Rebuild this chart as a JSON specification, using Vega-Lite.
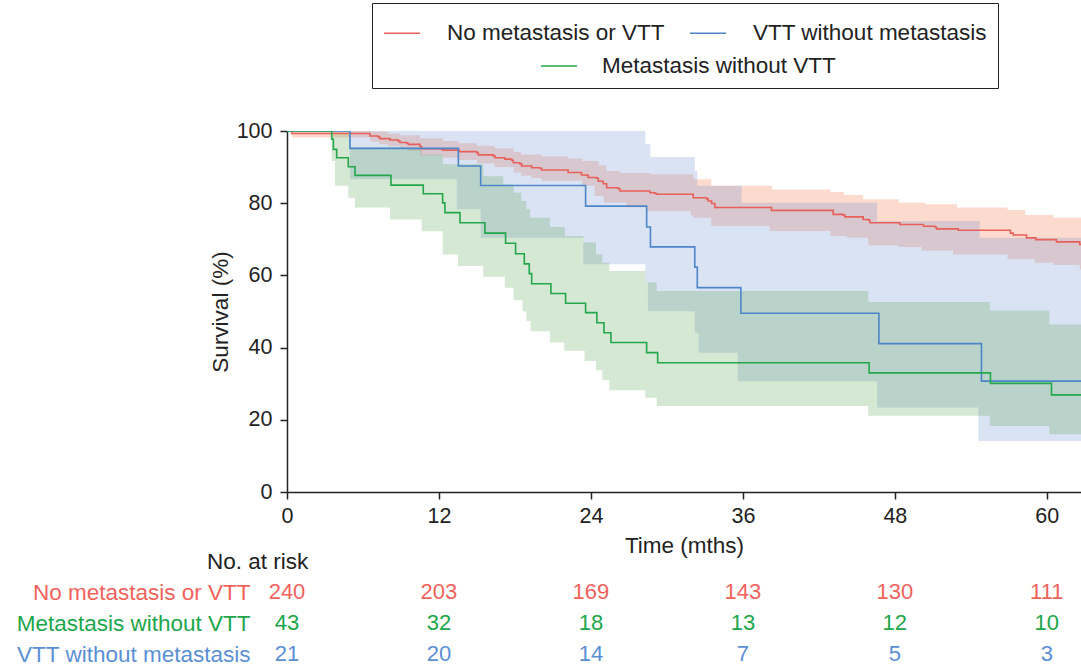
{
  "$schema": "https://vega.github.io/schema/vega-lite/v6.json",
  "autosize": {"type": "pad"},
  "padding": {"left": 16, "top": 2, "right": 0, "bottom": 0},
  "config": {"font": "Liberation Sans", "view": {"stroke": null}},
  "spacing": 100,
  "bounds": "flush",
  "resolve": {"scale": {"color": "independent", "stroke": "independent"}, "legend": {"color": "independent", "stroke": "independent"}},
  "datasets": {
    "surv": [
      {"g": "No metastasis or VTT", "t": 0, "s": 100}, {"g": "No metastasis or VTT", "t": 0.37, "s": 99.3}, {"g": "No metastasis or VTT", "t": 6.55, "s": 98.6}, {"g": "No metastasis or VTT", "t": 7.21, "s": 98.3}, {"g": "No metastasis or VTT", "t": 7.34, "s": 97.9}, {"g": "No metastasis or VTT", "t": 8.13, "s": 97.5}, {"g": "No metastasis or VTT", "t": 8.79, "s": 97.2}, {"g": "No metastasis or VTT", "t": 8.92, "s": 96.8}, {"g": "No metastasis or VTT", "t": 9.45, "s": 96.6}, {"g": "No metastasis or VTT", "t": 9.58, "s": 96.3}, {"g": "No metastasis or VTT", "t": 10.5, "s": 95.7}, {"g": "No metastasis or VTT", "t": 10.63, "s": 95.1}, {"g": "No metastasis or VTT", "t": 12.21, "s": 94.9}, {"g": "No metastasis or VTT", "t": 12.34, "s": 94.7}, {"g": "No metastasis or VTT", "t": 13.6, "s": 94.3}, {"g": "No metastasis or VTT", "t": 14.97, "s": 94.0}, {"g": "No metastasis or VTT", "t": 15.1, "s": 93.4}, {"g": "No metastasis or VTT", "t": 16.29, "s": 93.1}, {"g": "No metastasis or VTT", "t": 16.42, "s": 92.6}, {"g": "No metastasis or VTT", "t": 17.2, "s": 92.2}, {"g": "No metastasis or VTT", "t": 17.74, "s": 91.9}, {"g": "No metastasis or VTT", "t": 17.87, "s": 91.2}, {"g": "No metastasis or VTT", "t": 18.39, "s": 90.9}, {"g": "No metastasis or VTT", "t": 18.53, "s": 90.3}, {"g": "No metastasis or VTT", "t": 19.32, "s": 89.8}, {"g": "No metastasis or VTT", "t": 19.97, "s": 89.7}, {"g": "No metastasis or VTT", "t": 20.1, "s": 89.2}, {"g": "No metastasis or VTT", "t": 22.2, "s": 88.5}, {"g": "No metastasis or VTT", "t": 23.26, "s": 87.8}, {"g": "No metastasis or VTT", "t": 23.66, "s": 87.7}, {"g": "No metastasis or VTT", "t": 23.79, "s": 87.1}, {"g": "No metastasis or VTT", "t": 24.45, "s": 86.9}, {"g": "No metastasis or VTT", "t": 24.58, "s": 86.1}, {"g": "No metastasis or VTT", "t": 24.97, "s": 85.4}, {"g": "No metastasis or VTT", "t": 25.24, "s": 84.3}, {"g": "No metastasis or VTT", "t": 26.16, "s": 84.0}, {"g": "No metastasis or VTT", "t": 26.29, "s": 83.4}, {"g": "No metastasis or VTT", "t": 28.66, "s": 82.9}, {"g": "No metastasis or VTT", "t": 29.05, "s": 82.7}, {"g": "No metastasis or VTT", "t": 29.19, "s": 82.5}, {"g": "No metastasis or VTT", "t": 32.08, "s": 81.5}, {"g": "No metastasis or VTT", "t": 33.13, "s": 81.2}, {"g": "No metastasis or VTT", "t": 33.26, "s": 80.6}, {"g": "No metastasis or VTT", "t": 33.53, "s": 79.9}, {"g": "No metastasis or VTT", "t": 33.79, "s": 78.8}, {"g": "No metastasis or VTT", "t": 38.26, "s": 78.0}, {"g": "No metastasis or VTT", "t": 43.13, "s": 76.9}, {"g": "No metastasis or VTT", "t": 43.92, "s": 76.7}, {"g": "No metastasis or VTT", "t": 44.05, "s": 76.2}, {"g": "No metastasis or VTT", "t": 45.5, "s": 75.5}, {"g": "No metastasis or VTT", "t": 45.9, "s": 75.3}, {"g": "No metastasis or VTT", "t": 46.03, "s": 74.6}, {"g": "No metastasis or VTT", "t": 48.39, "s": 74.1}, {"g": "No metastasis or VTT", "t": 50.26, "s": 73.6}, {"g": "No metastasis or VTT", "t": 51.16, "s": 73.4}, {"g": "No metastasis or VTT", "t": 51.29, "s": 72.9}, {"g": "No metastasis or VTT", "t": 53.0, "s": 72.5}, {"g": "No metastasis or VTT", "t": 57.13, "s": 71.7}, {"g": "No metastasis or VTT", "t": 57.34, "s": 71.2}, {"g": "No metastasis or VTT", "t": 58.4, "s": 70.4}, {"g": "No metastasis or VTT", "t": 59.13, "s": 69.9}, {"g": "No metastasis or VTT", "t": 60.76, "s": 69.3}, {"g": "No metastasis or VTT", "t": 62.6, "s": 68.6}, {"g": "No metastasis or VTT", "t": 62.7, "s": 68.6},
      {"g": "VTT without metastasis", "t": 0, "s": 100}, {"g": "VTT without metastasis", "t": 4.97, "s": 95.2}, {"g": "VTT without metastasis", "t": 13.53, "s": 90.3}, {"g": "VTT without metastasis", "t": 15.29, "s": 84.9}, {"g": "VTT without metastasis", "t": 23.58, "s": 79.2}, {"g": "VTT without metastasis", "t": 28.4, "s": 73.4}, {"g": "VTT without metastasis", "t": 28.7, "s": 67.9}, {"g": "VTT without metastasis", "t": 32.2, "s": 62.3}, {"g": "VTT without metastasis", "t": 32.4, "s": 56.6}, {"g": "VTT without metastasis", "t": 35.84, "s": 49.5}, {"g": "VTT without metastasis", "t": 46.74, "s": 41.1}, {"g": "VTT without metastasis", "t": 54.84, "s": 30.7}, {"g": "VTT without metastasis", "t": 62.7, "s": 30.7}
    ],
    "survm": [
      {"m": "Metastasis without VTT", "t": 0, "s": 100}, {"m": "Metastasis without VTT", "t": 3.53, "s": 97.7}, {"m": "Metastasis without VTT", "t": 3.66, "s": 94.9}, {"m": "Metastasis without VTT", "t": 3.92, "s": 92.6}, {"m": "Metastasis without VTT", "t": 4.84, "s": 90.1}, {"m": "Metastasis without VTT", "t": 5.37, "s": 87.7}, {"m": "Metastasis without VTT", "t": 8.21, "s": 85.0}, {"m": "Metastasis without VTT", "t": 10.76, "s": 82.6}, {"m": "Metastasis without VTT", "t": 12.29, "s": 80.1}, {"m": "Metastasis without VTT", "t": 12.47, "s": 77.4}, {"m": "Metastasis without VTT", "t": 13.66, "s": 74.6}, {"m": "Metastasis without VTT", "t": 15.63, "s": 71.7}, {"m": "Metastasis without VTT", "t": 17.26, "s": 68.9}, {"m": "Metastasis without VTT", "t": 18.05, "s": 66.0}, {"m": "Metastasis without VTT", "t": 18.74, "s": 63.2}, {"m": "Metastasis without VTT", "t": 19.13, "s": 60.5}, {"m": "Metastasis without VTT", "t": 19.32, "s": 57.7}, {"m": "Metastasis without VTT", "t": 20.84, "s": 55.0}, {"m": "Metastasis without VTT", "t": 22.0, "s": 52.3}, {"m": "Metastasis without VTT", "t": 23.58, "s": 49.7}, {"m": "Metastasis without VTT", "t": 24.47, "s": 46.9}, {"m": "Metastasis without VTT", "t": 25.03, "s": 44.1}, {"m": "Metastasis without VTT", "t": 25.58, "s": 41.4}, {"m": "Metastasis without VTT", "t": 28.4, "s": 38.6}, {"m": "Metastasis without VTT", "t": 29.27, "s": 35.8}, {"m": "Metastasis without VTT", "t": 45.97, "s": 33.0}, {"m": "Metastasis without VTT", "t": 55.55, "s": 30.1}, {"m": "Metastasis without VTT", "t": 60.37, "s": 26.9}, {"m": "Metastasis without VTT", "t": 62.7, "s": 26.9}
    ],
    "ci": [
      {"grp": "No metastasis or VTT", "t": 0, "lo": 100, "hi": 100}, {"grp": "No metastasis or VTT", "t": 0.37, "lo": 98.2, "hi": 100}, {"grp": "No metastasis or VTT", "t": 6.6, "lo": 97.0, "hi": 99.8}, {"grp": "No metastasis or VTT", "t": 7.3, "lo": 96.3, "hi": 99.8}, {"grp": "No metastasis or VTT", "t": 8.0, "lo": 95.8, "hi": 99.3}, {"grp": "No metastasis or VTT", "t": 8.9, "lo": 95.0, "hi": 98.8}, {"grp": "No metastasis or VTT", "t": 9.5, "lo": 94.5, "hi": 98.8}, {"grp": "No metastasis or VTT", "t": 10.5, "lo": 93.2, "hi": 98.0}, {"grp": "No metastasis or VTT", "t": 12.3, "lo": 92.6, "hi": 97.2}, {"grp": "No metastasis or VTT", "t": 13.5, "lo": 92.0, "hi": 96.6}, {"grp": "No metastasis or VTT", "t": 15.0, "lo": 91.0, "hi": 95.9}, {"grp": "No metastasis or VTT", "t": 16.4, "lo": 90.0, "hi": 95.2}, {"grp": "No metastasis or VTT", "t": 17.9, "lo": 88.5, "hi": 94.2}, {"grp": "No metastasis or VTT", "t": 18.5, "lo": 87.6, "hi": 93.5}, {"grp": "No metastasis or VTT", "t": 19.3, "lo": 87.0, "hi": 93.5}, {"grp": "No metastasis or VTT", "t": 20.1, "lo": 86.2, "hi": 93.0}, {"grp": "No metastasis or VTT", "t": 22.2, "lo": 86.2, "hi": 92.4}, {"grp": "No metastasis or VTT", "t": 23.3, "lo": 84.8, "hi": 91.7}, {"grp": "No metastasis or VTT", "t": 24.3, "lo": 82.0, "hi": 91.7}, {"grp": "No metastasis or VTT", "t": 24.6, "lo": 82.0, "hi": 90.5}, {"grp": "No metastasis or VTT", "t": 25.0, "lo": 80.1, "hi": 90.5}, {"grp": "No metastasis or VTT", "t": 25.2, "lo": 80.1, "hi": 88.9}, {"grp": "No metastasis or VTT", "t": 26.3, "lo": 80.1, "hi": 88.4}, {"grp": "No metastasis or VTT", "t": 26.8, "lo": 78.9, "hi": 88.4}, {"grp": "No metastasis or VTT", "t": 28.4, "lo": 77.8, "hi": 88.4}, {"grp": "No metastasis or VTT", "t": 28.7, "lo": 77.8, "hi": 88.0}, {"grp": "No metastasis or VTT", "t": 31.9, "lo": 76.6, "hi": 88.0}, {"grp": "No metastasis or VTT", "t": 32.1, "lo": 76.0, "hi": 86.6}, {"grp": "No metastasis or VTT", "t": 33.5, "lo": 73.7, "hi": 84.8}, {"grp": "No metastasis or VTT", "t": 38.1, "lo": 72.3, "hi": 84.8}, {"grp": "No metastasis or VTT", "t": 38.3, "lo": 72.3, "hi": 83.8}, {"grp": "No metastasis or VTT", "t": 42.9, "lo": 70.9, "hi": 83.1}, {"grp": "No metastasis or VTT", "t": 44.0, "lo": 70.9, "hi": 82.3}, {"grp": "No metastasis or VTT", "t": 44.2, "lo": 70.4, "hi": 82.3}, {"grp": "No metastasis or VTT", "t": 45.5, "lo": 70.4, "hi": 81.1}, {"grp": "No metastasis or VTT", "t": 45.9, "lo": 68.3, "hi": 81.1}, {"grp": "No metastasis or VTT", "t": 48.3, "lo": 67.9, "hi": 80.1}, {"grp": "No metastasis or VTT", "t": 50.1, "lo": 66.9, "hi": 80.1}, {"grp": "No metastasis or VTT", "t": 50.4, "lo": 66.9, "hi": 79.7}, {"grp": "No metastasis or VTT", "t": 52.6, "lo": 65.8, "hi": 79.7}, {"grp": "No metastasis or VTT", "t": 52.9, "lo": 65.8, "hi": 78.8}, {"grp": "No metastasis or VTT", "t": 56.9, "lo": 64.5, "hi": 78.1}, {"grp": "No metastasis or VTT", "t": 58.3, "lo": 64.5, "hi": 76.7}, {"grp": "No metastasis or VTT", "t": 59.05, "lo": 63.5, "hi": 76.7}, {"grp": "No metastasis or VTT", "t": 60.5, "lo": 62.9, "hi": 76.0}, {"grp": "No metastasis or VTT", "t": 62.6, "lo": 61.7, "hi": 76.0}, {"grp": "No metastasis or VTT", "t": 62.7, "lo": 61.7, "hi": 76.0},
      {"grp": "Metastasis without VTT", "t": 0, "lo": 100, "hi": 100}, {"grp": "Metastasis without VTT", "t": 3.53, "lo": 91.7, "hi": 100}, {"grp": "Metastasis without VTT", "t": 3.79, "lo": 84.8, "hi": 100}, {"grp": "Metastasis without VTT", "t": 4.84, "lo": 81.5, "hi": 100}, {"grp": "Metastasis without VTT", "t": 5.0, "lo": 81.5, "hi": 95.4}, {"grp": "Metastasis without VTT", "t": 5.37, "lo": 78.8, "hi": 95.4}, {"grp": "Metastasis without VTT", "t": 8.13, "lo": 75.5, "hi": 95.4}, {"grp": "Metastasis without VTT", "t": 10.63, "lo": 72.2, "hi": 93.4}, {"grp": "Metastasis without VTT", "t": 12.3, "lo": 65.8, "hi": 90.8}, {"grp": "Metastasis without VTT", "t": 13.5, "lo": 62.6, "hi": 90.8}, {"grp": "Metastasis without VTT", "t": 15.5, "lo": 59.6, "hi": 87.5}, {"grp": "Metastasis without VTT", "t": 17.08, "lo": 59.6, "hi": 85.2}, {"grp": "Metastasis without VTT", "t": 17.2, "lo": 56.6, "hi": 85.2}, {"grp": "Metastasis without VTT", "t": 17.9, "lo": 53.1, "hi": 82.9}, {"grp": "Metastasis without VTT", "t": 18.5, "lo": 53.1, "hi": 80.6}, {"grp": "Metastasis without VTT", "t": 18.6, "lo": 50.1, "hi": 80.6}, {"grp": "Metastasis without VTT", "t": 18.9, "lo": 47.4, "hi": 78.3}, {"grp": "Metastasis without VTT", "t": 19.2, "lo": 47.4, "hi": 76.0}, {"grp": "Metastasis without VTT", "t": 19.24, "lo": 44.5, "hi": 76.0}, {"grp": "Metastasis without VTT", "t": 20.76, "lo": 41.4, "hi": 73.4}, {"grp": "Metastasis without VTT", "t": 21.9, "lo": 39.1, "hi": 73.4}, {"grp": "Metastasis without VTT", "t": 21.95, "lo": 39.1, "hi": 70.9}, {"grp": "Metastasis without VTT", "t": 23.4, "lo": 39.1, "hi": 69.1}, {"grp": "Metastasis without VTT", "t": 23.5, "lo": 36.3, "hi": 69.1}, {"grp": "Metastasis without VTT", "t": 24.4, "lo": 33.7, "hi": 65.8}, {"grp": "Metastasis without VTT", "t": 24.9, "lo": 31.0, "hi": 63.5}, {"grp": "Metastasis without VTT", "t": 25.45, "lo": 28.2, "hi": 61.2}, {"grp": "Metastasis without VTT", "t": 28.3, "lo": 26.1, "hi": 58.0}, {"grp": "Metastasis without VTT", "t": 29.2, "lo": 23.8, "hi": 55.7}, {"grp": "Metastasis without VTT", "t": 45.9, "lo": 21.1, "hi": 52.6}, {"grp": "Metastasis without VTT", "t": 55.5, "lo": 18.3, "hi": 50.3}, {"grp": "Metastasis without VTT", "t": 60.2, "lo": 16.0, "hi": 46.4}, {"grp": "Metastasis without VTT", "t": 62.7, "lo": 16.0, "hi": 46.4},
      {"grp": "VTT without metastasis", "t": 0, "lo": 100, "hi": 100}, {"grp": "VTT without metastasis", "t": 4.97, "lo": 86.6, "hi": 100}, {"grp": "VTT without metastasis", "t": 13.4, "lo": 78.3, "hi": 100}, {"grp": "VTT without metastasis", "t": 15.3, "lo": 70.4, "hi": 100}, {"grp": "VTT without metastasis", "t": 23.4, "lo": 63.1, "hi": 100}, {"grp": "VTT without metastasis", "t": 28.3, "lo": 58.0, "hi": 96.3}, {"grp": "VTT without metastasis", "t": 28.5, "lo": 50.1, "hi": 96.3}, {"grp": "VTT without metastasis", "t": 28.7, "lo": 50.1, "hi": 92.8}, {"grp": "VTT without metastasis", "t": 32.2, "lo": 44.1, "hi": 88.9}, {"grp": "VTT without metastasis", "t": 32.4, "lo": 44.1, "hi": 84.8}, {"grp": "VTT without metastasis", "t": 32.5, "lo": 38.6, "hi": 84.8}, {"grp": "VTT without metastasis", "t": 35.6, "lo": 30.7, "hi": 84.8}, {"grp": "VTT without metastasis", "t": 35.9, "lo": 30.7, "hi": 80.1}, {"grp": "VTT without metastasis", "t": 46.6, "lo": 23.4, "hi": 75.1}, {"grp": "VTT without metastasis", "t": 54.6, "lo": 14.1, "hi": 75.1}, {"grp": "VTT without metastasis", "t": 54.7, "lo": 14.1, "hi": 70.4}, {"grp": "VTT without metastasis", "t": 62.7, "lo": 14.1, "hi": 70.4}
    ],
    "risk": [
      {"g": "No metastasis or VTT", "t": 0, "n": 240}, {"g": "No metastasis or VTT", "t": 12, "n": 203}, {"g": "No metastasis or VTT", "t": 24, "n": 169}, {"g": "No metastasis or VTT", "t": 36, "n": 143}, {"g": "No metastasis or VTT", "t": 48, "n": 130}, {"g": "No metastasis or VTT", "t": 60, "n": 111},
      {"g": "Metastasis without VTT", "t": 0, "n": 43}, {"g": "Metastasis without VTT", "t": 12, "n": 32}, {"g": "Metastasis without VTT", "t": 24, "n": 18}, {"g": "Metastasis without VTT", "t": 36, "n": 13}, {"g": "Metastasis without VTT", "t": 48, "n": 12}, {"g": "Metastasis without VTT", "t": 60, "n": 10},
      {"g": "VTT without metastasis", "t": 0, "n": 21}, {"g": "VTT without metastasis", "t": 12, "n": 20}, {"g": "VTT without metastasis", "t": 24, "n": 14}, {"g": "VTT without metastasis", "t": 36, "n": 7}, {"g": "VTT without metastasis", "t": 48, "n": 5}, {"g": "VTT without metastasis", "t": 60, "n": 3}
    ]
  },
  "vconcat": [
    {
      "width": 794,
      "height": 361,
      "encoding": {
        "x": {"field": "t", "type": "quantitative", "scale": {"domain": [0, 62.7], "nice": false, "zero": false},
          "axis": {"values": [0, 12, 24, 36, 48, 60], "title": "Time (mths)", "titleFontSize": 22.5, "titleFontWeight": "normal", "titleColor": "#222", "titlePadding": 8, "labelFontSize": 21.5, "labelColor": "#222", "labelPadding": 6, "tickSize": 7, "tickColor": "#222", "tickWidth": 1.5, "domainColor": "#222", "domainWidth": 1.5, "grid": false, "labelFlush": false}}
      },
      "layer": [
        {
          "data": {"name": "ci"},
          "transform": [{"filter": "datum.grp === 'No metastasis or VTT'"}],
          "mark": {"type": "area", "interpolate": "step-after", "fill": "#f76a3a", "fillOpacity": 0.25, "clip": true},
          "encoding": {
            "y": {"field": "lo", "type": "quantitative", "stack": null, "scale": {"domain": [0, 100], "nice": false},
              "axis": {"values": [0, 20, 40, 60, 80, 100], "title": "Survival (%)", "titleFontSize": 22.5, "titleFontWeight": "normal", "titleColor": "#222", "titlePadding": 4, "labelFontSize": 21.5, "labelColor": "#222", "labelPadding": 8, "tickSize": 7, "tickColor": "#222", "tickWidth": 1.5, "domainColor": "#222", "domainWidth": 1.5, "grid": false, "labelFlush": false}},
            "y2": {"field": "hi"}
          }
        },
        {
          "data": {"name": "ci"},
          "transform": [{"filter": "datum.grp === 'VTT without metastasis'"}],
          "mark": {"type": "area", "interpolate": "step-after", "fill": "#6b8fcf", "fillOpacity": 0.25, "clip": true},
          "encoding": {
            "y": {"field": "lo", "type": "quantitative", "stack": null},
            "y2": {"field": "hi"}
          }
        },
        {
          "data": {"name": "ci"},
          "transform": [{"filter": "datum.grp === 'Metastasis without VTT'"}],
          "mark": {"type": "area", "interpolate": "step-after", "fill": "#57a353", "fillOpacity": 0.25, "clip": true},
          "encoding": {
            "y": {"field": "lo", "type": "quantitative", "stack": null},
            "y2": {"field": "hi"}
          }
        },
        {
          "data": {"name": "surv"},
          "mark": {"type": "line", "interpolate": "step-after", "strokeWidth": 1.6, "clip": true},
          "encoding": {
            "y": {"field": "s", "type": "quantitative"},
            "color": {"field": "g", "type": "nominal",
              "scale": {"domain": ["No metastasis or VTT", "VTT without metastasis"], "range": ["#e8605a", "#4c86c8"]},
              "legend": {"values": ["No metastasis or VTT", "VTT without metastasis"], "orient": "none", "legendX": 85, "legendY": -128, "direction": "horizontal", "title": " ", "titleOrient": "bottom", "titleFontSize": 12, "titlePadding": 21, "padding": 11, "strokeColor": "#222", "symbolType": "stroke", "symbolSize": 1296, "symbolStrokeWidth": 1.5, "labelFontSize": 22.5, "labelColor": "#222", "labelOffset": 26, "columnPadding": 22, "labelLimit": 400}}
          }
        },
        {
          "data": {"name": "survm"},
          "mark": {"type": "line", "interpolate": "step-after", "strokeWidth": 1.6, "clip": true},
          "encoding": {
            "y": {"field": "s", "type": "quantitative"},
            "stroke": {"field": "m", "type": "nominal",
              "scale": {"domain": ["Metastasis without VTT"], "range": ["#22a74a"]},
              "legend": {"values": ["Metastasis without VTT"], "orient": "none", "legendX": 253, "legendY": -84, "direction": "horizontal", "title": null, "padding": 0, "symbolType": "stroke", "symbolSize": 1296, "symbolStrokeWidth": 1.5, "labelFontSize": 22.5, "labelColor": "#222", "labelOffset": 24, "labelLimit": 400}}
          }
        }
      ]
    },
    {
      "width": 794,
      "height": 62,
      "data": {"name": "risk"},
      "title": {"text": "No. at risk", "anchor": "start", "frame": "group", "dx": -80, "offset": 8, "fontSize": 22.5, "fontWeight": "normal", "color": "#222"},
      "mark": {"type": "text", "fontSize": 22, "baseline": "middle", "align": "center"},
      "encoding": {
        "x": {"field": "t", "type": "quantitative", "scale": {"domain": [0, 62.7], "nice": false, "zero": false}, "axis": null},
        "y": {"field": "g", "type": "nominal", "sort": ["No metastasis or VTT", "Metastasis without VTT", "VTT without metastasis"], "scale": {"type": "point", "padding": 0},
          "axis": {"title": null, "domain": false, "ticks": false, "labelPadding": 37, "labelFontSize": 22.5, "labelLimit": 400,
            "labelColor": {"condition": [{"test": "datum.value === 'No metastasis or VTT'", "value": "#f0625c"}, {"test": "datum.value === 'Metastasis without VTT'", "value": "#20a64a"}], "value": "#5b8fd4"}}},
        "text": {"field": "n", "type": "quantitative"},
        "color": {"field": "g", "type": "nominal", "scale": {"domain": ["No metastasis or VTT", "Metastasis without VTT", "VTT without metastasis"], "range": ["#f0625c", "#20a64a", "#5b8fd4"]}, "legend": null}
      }
    }
  ]
}
